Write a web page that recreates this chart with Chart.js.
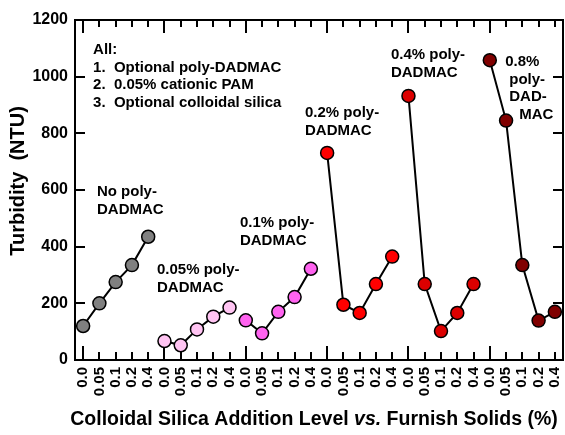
<!DOCTYPE html>
<html>
<head>
<meta charset="utf-8">
<script src="https://cdn.jsdelivr.net/npm/chart.js@4"></script>
<style>
  body { margin: 0; background: #fff; }
  canvas { display: block; }
</style>
</head>
<body>
<canvas id="turbidityChart" width="565" height="435"></canvas>
<script>
// silica addition levels, repeated for every poly-DADMAC dose
const silicaLevels = ['0.0', '0.05', '0.1', '0.2', '0.4'];
const yTicks = [0, 200, 400, 600, 800, 1000, 1200];

// turbidity (NTU), one array per poly-DADMAC dose
const noPolyDadmac = [120, 200, 275, 335, 435];
const polyDadmac005 = [67, 52, 108, 153, 185];
const polyDadmac01 = [140, 94, 170, 222, 322];
const polyDadmac02 = [731, 195, 166, 268, 365];
const polyDadmac04 = [932, 268, 102, 166, 268];
const polyDadmac08 = [1058, 845, 335, 139, 170];

const groups = [noPolyDadmac, polyDadmac005, polyDadmac01, polyDadmac02, polyDadmac04, polyDadmac08];
const groupColors = ['#808080', '#ffc4f2', '#ff63f0', '#ff0000', '#dc0000', '#800000'];

const FONT = '"Liberation Sans", Arial, sans-serif';

// 30 categories: 6 groups x 5 silica levels
let labels = [];
groups.forEach(() => { labels = labels.concat(silicaLevels); });

const datasets = groups.map((vals, g) => {
    const data = labels.map(() => null);
    vals.forEach((v, i) => { data[g * silicaLevels.length + i] = v; });
    return {
        data: data,
        xAxisID: 'x',
        yAxisID: 'y',
        borderColor: '#000',
        borderWidth: 2,
        pointRadius: 6.5,
        pointHoverRadius: 6.5,
        pointBackgroundColor: groupColors[g],
        pointBorderColor: '#000',
        pointBorderWidth: 1.5,
        spanGaps: false,
        tension: 0
    };
});

// text notes placed in data coordinates (category index, NTU)
const notes = [
    { x: 0.61, y: 1094, lines: ['All:', '1.  Optional poly-DADMAC', '2.  0.05% cationic PAM', '3.  Optional colloidal silica'], dx: [0, 0, 0, 0] },
    { x: 0.85, y: 593, lines: ['No poly-', 'DADMAC'], dx: [0, 0] },
    { x: 4.54, y: 318, lines: ['0.05% poly-', 'DADMAC'], dx: [0, 0] },
    { x: 9.64, y: 484, lines: ['0.1% poly-', 'DADMAC'], dx: [0, 0] },
    { x: 13.64, y: 872, lines: ['0.2% poly-', 'DADMAC'], dx: [0, 0] },
    { x: 18.92, y: 1076, lines: ['0.4% poly-', 'DADMAC'], dx: [0, 0] },
    { x: 25.95, y: 1052, lines: ['0.8%', 'poly-', 'DAD-', 'MAC'], dx: [0, 4, 4, 14] }
];

const textPlugin = {
    id: 'notesAndTitles',
    afterDraw(chart) {
        const c = chart.ctx;
        const xs = chart.scales.x;
        const ys = chart.scales.y;
        c.save();
        c.fillStyle = '#000';
        c.textBaseline = 'middle';
        c.textAlign = 'left';
        c.font = 'bold 15px ' + FONT;
        notes.forEach(n => {
            const px = xs.getPixelForValue(n.x);
            const py = ys.getPixelForValue(n.y);
            n.lines.forEach((t, i) => c.fillText(t, px + n.dx[i], py + i * 17.5));
        });

        // y axis title
        c.save();
        c.translate(18, 181);
        c.rotate(-Math.PI / 2);
        c.textAlign = 'center';
        c.font = 'bold 20px ' + FONT;
        c.fillText('Turbidity  (NTU)', 0, 0);
        c.restore();

        // x axis title with italic "vs."
        const parts = [
            ['Colloidal Silica Addition Level ', 'bold 19.5px ' + FONT],
            ['vs.', 'italic bold 19.5px ' + FONT],
            [' Furnish Solids (%)', 'bold 19.5px ' + FONT]
        ];
        let total = 0;
        parts.forEach(p => { c.font = p[1]; total += c.measureText(p[0]).width; });
        let cx = 314 - total / 2;
        parts.forEach(p => {
            c.font = p[1];
            c.fillText(p[0], cx, 420);
            cx += c.measureText(p[0]).width;
        });
        c.restore();
    }
};

// inward tick marks: negative tickLength, no grid lines on the chart area
function inTicks(len, color) {
    return {
        display: true,
        drawOnChartArea: false,
        drawTicks: true,
        tickLength: -len,
        lineWidth: 2,
        tickWidth: 2,
        tickColor: color || '#000'
    };
}
const majorOnly = c => (c.index % silicaLevels.length === 0 ? '#000' : 'rgba(0,0,0,0)');
const frameBorder = { display: true, color: '#000', width: 2 };
const noBorder = { display: false };

// fixed axis sizes, and no extra label padding pushed into the layout
function sizeTo(w, h) {
    return s => {
        if (w !== null) s.width = w;
        if (h !== null) s.height = h;
        s.paddingLeft = s.paddingRight = s.paddingTop = s.paddingBottom = 0;
    };
}

const canvas = document.getElementById('turbidityChart');

const turbidityChart = new Chart(canvas, {
    type: 'line',
    data: { labels: labels, datasets: datasets },
    options: {
        responsive: false,
        animation: false,
        devicePixelRatio: 1,
        layout: { autoPadding: false, padding: { top: 20, right: 2, left: 0, bottom: 0 } },
        plugins: {
            legend: { display: false },
            tooltip: { enabled: false }
        },
        scales: {
            x: {
                position: 'bottom',
                weight: 1,
                offset: true,
                grid: inTicks(8),
                border: frameBorder,
                ticks: {
                    autoSkip: false,
                    minRotation: 90,
                    maxRotation: 90,
                    padding: 15,
                    color: '#000',
                    font: { family: FONT, size: 15, weight: 'bold' }
                },
                afterFit: sizeTo(null, 75)
            },
            xMajor: {
                type: 'category',
                position: 'bottom',
                weight: 0,
                offset: true,
                grid: inTicks(14, majorOnly),
                border: noBorder,
                ticks: { display: false, autoSkip: false },
                afterFit: sizeTo(null, 0)
            },
            xTop: {
                type: 'category',
                position: 'top',
                weight: 1,
                offset: true,
                grid: inTicks(7),
                border: frameBorder,
                ticks: { display: false, autoSkip: false },
                afterFit: sizeTo(null, 0)
            },
            xTopMajor: {
                type: 'category',
                position: 'top',
                weight: 0,
                offset: true,
                grid: inTicks(13, majorOnly),
                border: noBorder,
                ticks: { display: false, autoSkip: false },
                afterFit: sizeTo(null, 0)
            },
            y: {
                position: 'left',
                min: 0,
                max: 1200,
                grid: inTicks(10),
                border: frameBorder,
                ticks: {
                    stepSize: 200,
                    padding: 17,
                    color: '#000',
                    font: { family: FONT, size: 16, weight: 'bold' },
                    callback: v => String(v)
                },
                afterFit: sizeTo(75, null)
            },
            yRight: {
                type: 'linear',
                position: 'right',
                min: 0,
                max: 1200,
                grid: inTicks(10),
                border: frameBorder,
                ticks: { display: false, stepSize: 200 },
                afterFit: sizeTo(0, null)
            }
        }
    },
    plugins: [textPlugin]
});
</script>
</body>
</html>
